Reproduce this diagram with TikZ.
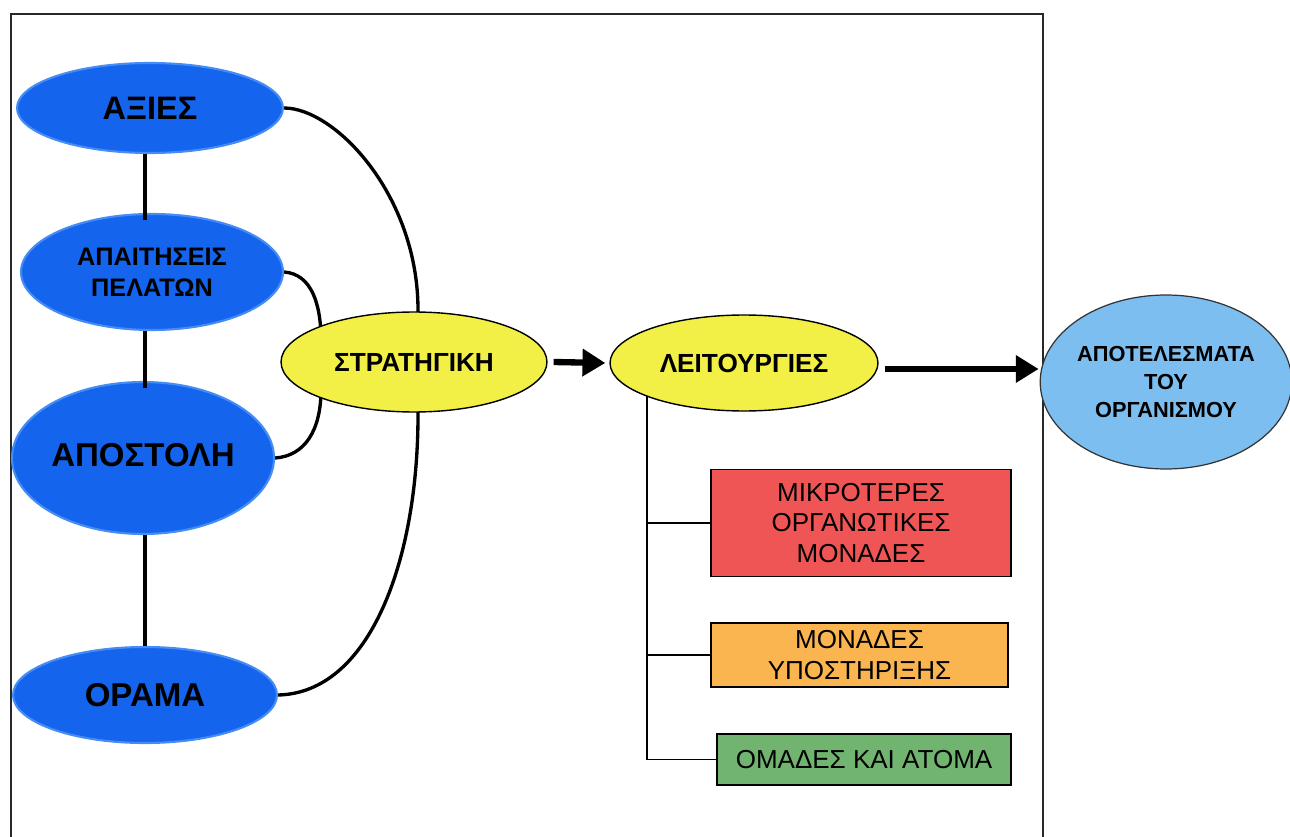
\documentclass[tikz,border=0pt]{standalone}
\usepackage{fontspec}
\setmainfont{Liberation Sans}
\usetikzlibrary{shapes.geometric,arrows.meta,calc}
\pgfdeclarelayer{background}
\pgfsetlayers{background,main}

\definecolor{blueoval}{RGB}{20,100,238}
\definecolor{blueedge}{RGB}{70,140,245}
\definecolor{yellowoval}{RGB}{242,240,70}
\definecolor{resultblue}{RGB}{125,190,240}
\definecolor{redbox}{RGB}{240,85,85}
\definecolor{orangebox}{RGB}{250,180,80}
\definecolor{greenbox}{RGB}{112,180,112}
\definecolor{framegray}{RGB}{40,40,40}

\tikzset{
  blueoval/.style={ellipse, fill=blueoval, draw=blueedge, line width=1.2pt, inner sep=0pt,
    align=center, font=\bfseries},
  yellowoval/.style={ellipse, fill=yellowoval, draw=black, line width=0.8pt, inner sep=0pt,
    align=center, font=\fontsize{14.9}{17}\selectfont\bfseries},
  resultoval/.style={ellipse, fill=resultblue, draw=black!80, line width=0.7pt, inner sep=0pt,
    align=center, font=\fontsize{12.4}{16}\selectfont\bfseries},
  unitbox/.style={rectangle, draw=black, line width=0.8pt, inner sep=0pt, align=center,
    font=\fontsize{14.8}{17.2}\selectfont},
  link/.style={line width=2pt, black},
  arcline/.style={line width=1.9pt, black},
  tree/.style={line width=0.8pt, black},
  flow/.style={line width=3.6pt, -{Triangle[length=13pt,width=15pt]}},
  frameline/.style={line width=0.8pt, framegray}
}

\begin{document}
\begin{tikzpicture}[x=0.02cm, y=-0.02cm]
  \useasboundingbox (0,0) rectangle (1290,837);

  % outer frame (open at the bottom)
  \draw[frameline] (11,837) -- (11,14) -- (1043,14) -- (1043,837);

  % left column
  \node[blueoval, minimum width=5.32cm, minimum height=1.8cm,
        font=\fontsize{18.5}{20}\selectfont\bfseries] (axies) at (150,108) {ΑΞΙΕΣ};
  \node[blueoval, minimum width=5.24cm, minimum height=2.32cm,
        font=\fontsize{14.4}{17.8}\selectfont\bfseries] (apait) at (152,272) {ΑΠΑΙΤΗΣΕΙΣ\\ΠΕΛΑΤΩΝ};
  \node[blueoval, minimum width=5.24cm, minimum height=3.04cm,
        font=\fontsize{18.8}{20}\selectfont\bfseries] (apost) at (143,458) {\raisebox{3.4pt}{ΑΠΟΣΤΟΛΗ}};
  \node[blueoval, minimum width=5.28cm, minimum height=1.92cm,
        font=\fontsize{18.8}{20}\selectfont\bfseries] (orama) at (145,695) {ΟΡΑΜΑ};

  % vertical links down the column
  \draw[link] (axies.south -| orama.north) -- ([yshift=-4pt]apait.north -| orama.north);
  \draw[link] (apait.south -| orama.north) -- ([yshift=-4pt]apost.north -| orama.north);
  \draw[link] (apost.south -| orama.north) -- (orama.north);

  % middle row
  \node[yellowoval, minimum width=5.32cm, minimum height=2.0cm] (strat) at (414,362) {ΣΤΡΑΤΗΓΙΚΗ};
  \node[yellowoval, minimum width=5.36cm, minimum height=1.92cm] (leit) at (744,363) {ΛΕΙΤΟΥΡΓΙΕΣ};
  \node[resultoval, minimum width=4.86cm, minimum height=3.48cm] (result) at (1166,382)
        {ΑΠΟΤΕΛΕΣΜΑΤΑ\\ΤΟΥ\\ΟΡΓΑΝΙΣΜΟΥ};

  % arcs gathering the four ovals into the strategy
  \begin{pgfonlayer}{background}
    \draw[arcline] (axies.east) .. controls (335,108) and (418,195) .. (418,310)
                -- (418,415) .. controls (418,560) and (370,693) .. (orama.east);
    \draw[arcline] (apait.east) .. controls (312,274) and (321,305) .. (321,340)
                -- (321,390) .. controls (321,430) and (305,456) .. (apost.east);
  \end{pgfonlayer}

  % flow arrows
  \draw[flow] ($(strat.east)+(6,0)$) -- ($(leit.west)+(-4,0)$);
  \draw[flow] ($(leit.east)+(6,6)$) -- ($(result.west)+(-1,-13)$);

  % units under the functions
  \node[unitbox, fill=redbox, minimum width=6.0cm, minimum height=2.14cm] (small) at (861,523)
        {ΜΙΚΡΟΤΕΡΕΣ\\ΟΡΓΑΝΩΤΙΚΕΣ\\ΜΟΝΑΔΕΣ};
  \node[unitbox, fill=orangebox, minimum width=5.94cm, minimum height=1.28cm] (support) at (859.5,655)
        {ΜΟΝΑΔΕΣ\\ΥΠΟΣΤΗΡΙΞΗΣ};
  \node[unitbox, fill=greenbox, minimum width=5.88cm, minimum height=1.02cm] (teams) at (864,759.5)
        {ΟΜΑΔΕΣ ΚΑΙ ΑΤΟΜΑ};

  \coordinate (trunk) at (647,396);
  \draw[tree] (trunk) |- (teams.west);
  \draw[tree] (small.west) -- (small.west -| trunk);
  \draw[tree] (support.west) -- (support.west -| trunk);
\end{tikzpicture}
\end{document}
